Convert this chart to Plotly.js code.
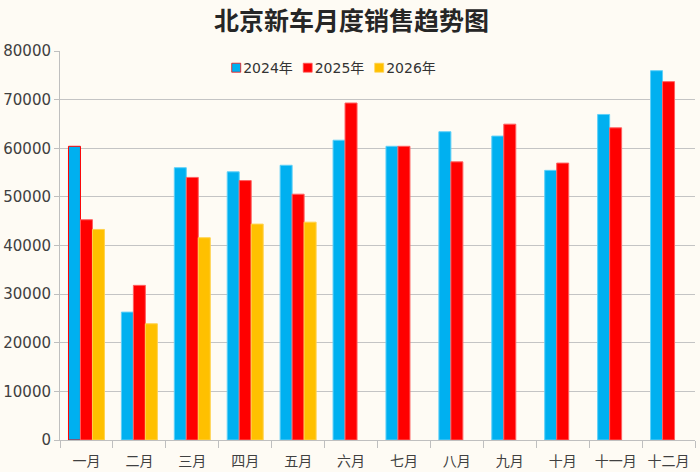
<!DOCTYPE html>
<html><head><meta charset="utf-8">
<script src="https://cdn.plot.ly/plotly-3.0.1.min.js"></script>
<style>html,body{margin:0;padding:0;background:#fefbf4;}#chart{width:700px;height:472px;}</style>
</head><body><div id="chart"></div>
<script>
const months = ["一月","二月","三月","四月","五月","六月","七月","八月","九月","十月","十一月","十二月"];
const sales2024 = [60400, 26300, 56000, 55150, 56500, 61650, 60400, 63400, 62500, 55450, 66950, 75950];
const sales2025 = [45300, 31800, 54000, 53350, 50550, 69300, 60400, 57200, 64950, 56950, 64200, 73700];
const sales2026 = [43300, 23900, 41600, 44400, 44800, null, null, null, null, null, null, null];
const yTicks = [0,10000,20000,30000,40000,50000,60000,70000,80000];

const edge2024 = months.map((m,i)=> i===0 ? "#ff0000" : "#5fd0f8");
const traces = [
  {type:"bar", name:"2024年", x:months, y:sales2024, marker:{color:"#00b0f0", line:{color:edge2024, width:1}}},
  {type:"bar", name:"2025年", x:months, y:sales2025, marker:{color:"#ff0000", line:{color:"#ff6060", width:1}}},
  {type:"bar", name:"2026年", x:months, y:sales2026, marker:{color:"#ffc000", line:{color:"#ffd24d", width:1}}}
];
const layout = {
  width:700, height:472,
  paper_bgcolor:"#fefbf4", plot_bgcolor:"#fefbf4",
  margin:{l:60, r:5, t:51, b:32},
  title:{text:"<b>北京新车月度销售趋势图</b>", x:0.502, xanchor:"center", y:0.956, yanchor:"middle",
    font:{family:"Noto Sans CJK SC", size:25, color:"#262626"}},
  barmode:"group", bargap:0.32, bargroupgap:0,
  showlegend:true,
  legend:{orientation:"h", x:0.246, xanchor:"left", y:0.956, yanchor:"middle",
    bgcolor:"rgba(0,0,0,0)", font:{family:"DejaVu Sans, Noto Sans CJK SC", size:14, color:"#333333"},
    itemwidth:30, entrywidth:26.5, traceorder:"normal"},
  xaxis:{type:"category", showgrid:false, showline:true, linecolor:"#bfbfbf", linewidth:1,
    ticks:"outside", tickson:"boundaries", ticklen:7, tickcolor:"#bfbfbf", ticklabelstandoff:8,
    tickfont:{family:"Noto Sans CJK SC", size:14, color:"#404040"}, fixedrange:true},
  yaxis:{range:[0,80000], tickvals:yTicks, ticktext:yTicks.map(String), showgrid:true, gridcolor:"#c4c4c4", gridwidth:1,
    showline:true, linecolor:"#bfbfbf", linewidth:1, zeroline:false, ticks:"outside", ticklen:5, tickcolor:"#bfbfbf",
    tickfont:{family:"DejaVu Sans", size:15, color:"#404040"}, fixedrange:true}
};
Plotly.newPlot("chart", traces, layout, {displayModeBar:false, staticPlot:true}).then(function(gd){
  gd.querySelectorAll(".legend, .legend .scrollbox, .legend .traces").forEach(function(el){ el.removeAttribute("clip-path"); });
  gd.querySelectorAll(".legend .legendtext").forEach(function(el){
    el.setAttribute("x", "27");
    el.querySelectorAll("tspan").forEach(function(t){ if (t.hasAttribute("x")) t.setAttribute("x", "27"); });
  });
  gd.querySelectorAll(".legend .legendpoints path").forEach(function(p){
    const t = p.getAttribute("transform") || "";
    p.setAttribute("transform", t + " scale(0.75)");
  });
});
</script></body></html>
